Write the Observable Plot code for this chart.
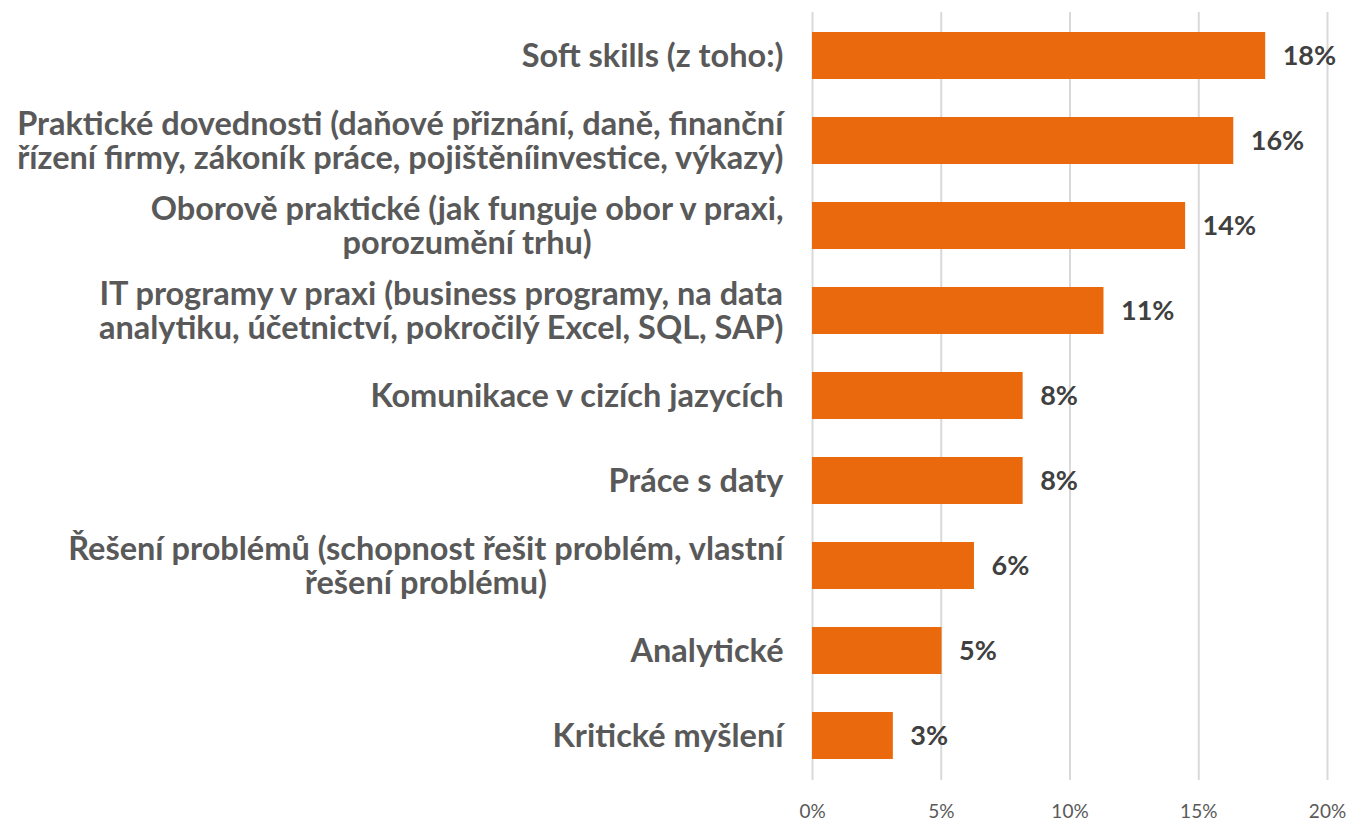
<!DOCTYPE html>
<html>
<head>
<meta charset="utf-8">
<script src="https://cdn.jsdelivr.net/npm/d3@7"></script>
<script src="https://cdn.jsdelivr.net/npm/@observablehq/plot@0.6"></script>
<style>
  html, body { margin: 0; padding: 0; background: #fff; }
</style>
</head>
<body>
<div id="chart"></div>
<script>
const categories = [
  "Soft skills (z toho:)",
  "Praktické dovednosti (daňové přiznání, daně, finanční\nřízení firmy, zákoník práce, pojištěníinvestice, výkazy)",
  "Oborově praktické (jak funguje obor v praxi,\nporozumění trhu)",
  "IT programy v praxi (business programy, na data\nanalytiku, účetnictví, pokročilý Excel, SQL, SAP)",
  "Komunikace v cizích jazycích",
  "Práce s daty",
  "Řešení problémů (schopnost řešit problém, vlastní\nřešení problému)",
  "Analytické",
  "Kritické myšlení"
];
const values = [0.176, 0.1636, 0.1449, 0.1132, 0.0818, 0.0818, 0.0629, 0.0503, 0.0314];
const valueLabels = ["18%", "16%", "14%", "11%", "8%", "8%", "6%", "5%", "3%"];
const xTicks = [0, 0.05, 0.10, 0.15, 0.20];
const xTickLabels = ["0%", "5%", "10%", "15%", "20%"];

const data = categories.map((c, i) => ({category: c, value: values[i], label: valueLabels[i]}));

const FONT = "Lato, 'Open Sans', sans-serif";

const chart = Plot.plot({
  width: 1348,
  height: 821,
  marginLeft: 812,
  marginRight: 21,
  marginTop: 12,
  marginBottom: 41,
  style: {fontFamily: FONT, background: "#fff", overflow: "visible"},
  x: {domain: [0, 0.2]},
  y: {domain: categories, paddingInner: 0.445, paddingOuter: 0.2225},
  marks: [
    Plot.gridX(xTicks, {stroke: "#d9d9d9", strokeWidth: 2, strokeOpacity: 1}),
    Plot.axisX({
      ticks: xTicks,
      tickFormat: (d) => xTickLabels[xTicks.indexOf(d)],
      tickSize: 0,
      tickPadding: 24,
      fontSize: 19,
      fill: "#595959",
      label: null
    }),
    Plot.axisY({
      tickSize: 0,
      tickPadding: 29,
      fontSize: 32.5,
      fontWeight: "bold",
      fill: "#595959",
      lineHeight: 1.05,
      label: null,
      textOverflow: null
    }),
    Plot.barX(data, {x: "value", y: "category", fill: "#E9690C"}),
    Plot.text(data, {
      x: "value", y: "category", text: "label",
      textAnchor: "start", dx: 17,
      fontSize: 27, fontWeight: "bold", fill: "#404040"
    })
  ]
});

document.getElementById("chart").appendChild(chart);

// center the lines of multi-line category labels relative to each other (right edge fixed)
chart.querySelectorAll('g[aria-label="y-axis tick label"] text').forEach((t) => {
  const spans = t.querySelectorAll("tspan");
  if (spans.length < 2) return;
  let maxW = 0;
  spans.forEach((s) => { maxW = Math.max(maxW, s.getComputedTextLength()); });
  t.setAttribute("text-anchor", "middle");
  spans.forEach((s) => s.setAttribute("x", -maxW / 2));
});
</script>
</body>
</html>
